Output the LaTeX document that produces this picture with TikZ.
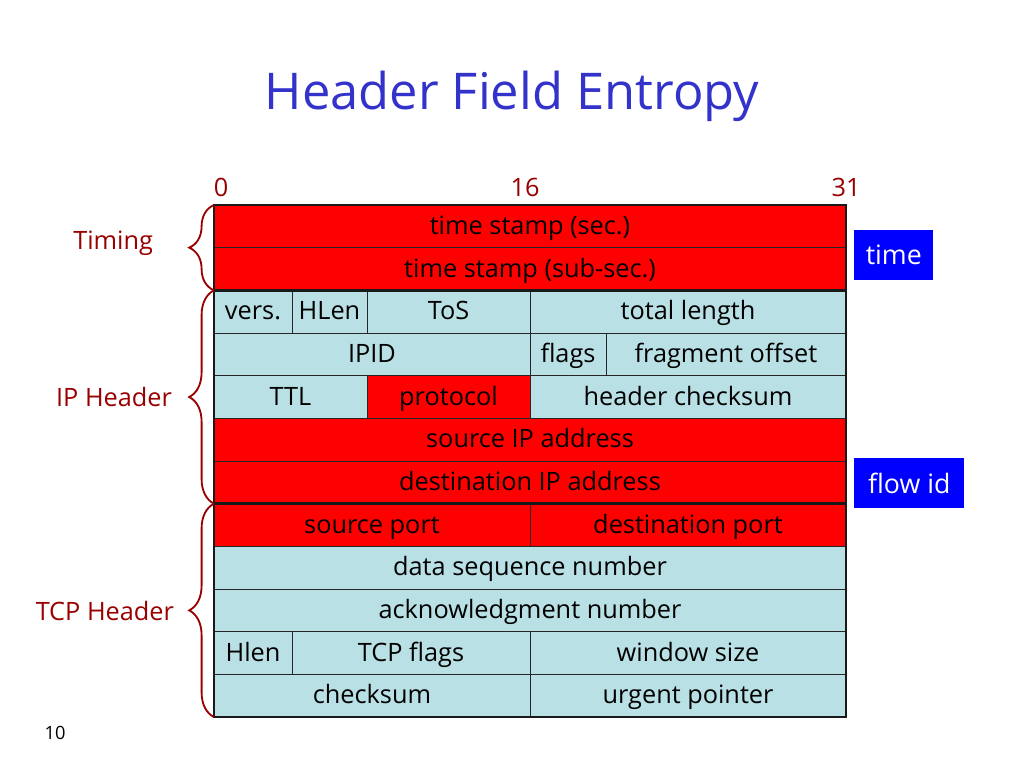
\documentclass[tikz,border=0pt]{standalone}
\usepackage{fontspec}
\setmainfont{Open Sans}
\usetikzlibrary{decorations.pathreplacing,positioning}
\definecolor{hdrred}{HTML}{FF0000}
\definecolor{hdrblue}{HTML}{B9E0E4}
\definecolor{labred}{HTML}{990000}
\definecolor{titleblue}{HTML}{3333CC}
\tikzset{
  field/.style={draw=black!85, line width=0.6pt, inner sep=0pt, outer sep=0pt,
    minimum height=1.0667cm, anchor=north west, text height=12.5pt, text depth=1pt,
    font=\fontsize{18}{20}\selectfont},
  border/.style={line width=2pt, black!90, line cap=rect},
  grp/.style={decorate, decoration={brace, amplitude=0.62cm}, labred, line width=1.3pt},
  grplabel/.style={labred, anchor=east, font=\fontsize{18}{20}\selectfont},
  bitno/.style={labred, font=\fontsize{18}{20}\selectfont},
  tag/.style={fill=blue, text=white, anchor=north west, inner sep=0pt,
    minimum height=1.25cm, font=\fontsize{19}{21}\selectfont},
}
% one header field: name, x left, x right, row, fill, text
\newcommand{\hfield}[6]{\node[field, fill=#5, minimum width={(#3-#2)*0.025cm}] (#1) at (#2,{205+42.67*#4}) {#6};}
\begin{document}
\begin{tikzpicture}[x=0.025cm, y=-0.025cm]
\useasboundingbox[fill=white] (0,0) rectangle (1024,768);

\node [titleblue, font=\fontsize{36}{42}\selectfont] (title) at (512,96) {Header Field Entropy};

% bit numbers
\node [bitno] (b0) at (221,187) {0};
\node [bitno] (b16) at (525,187) {16};
\node [bitno] (b31) at (846,187) {31};

% timing
\hfield{ts}{214}{846}{0}{hdrred}{time stamp (sec.)}
\hfield{tsub}{214}{846}{1}{hdrred}{time stamp (sub-sec.)}
% IP header
\hfield{vers}{214}{292}{2}{hdrblue}{vers.}
\hfield{hlen}{292}{367}{2}{hdrblue}{HLen}
\hfield{tos}{367}{530}{2}{hdrblue}{ToS}
\hfield{totlen}{530}{846}{2}{hdrblue}{total length}
\hfield{ipid}{214}{530}{3}{hdrblue}{IPID}
\hfield{flags}{530}{606}{3}{hdrblue}{flags}
\hfield{fragoff}{606}{846}{3}{hdrblue}{fragment offset}
\hfield{ttl}{214}{367}{4}{hdrblue}{TTL}
\hfield{proto}{367}{530}{4}{hdrred}{protocol}
\hfield{hcsum}{530}{846}{4}{hdrblue}{header checksum}
\hfield{srcip}{214}{846}{5}{hdrred}{source IP address}
\hfield{dstip}{214}{846}{6}{hdrred}{destination IP address}
% TCP header
\hfield{sport}{214}{530}{7}{hdrred}{source port}
\hfield{dport}{530}{846}{7}{hdrred}{destination port}
\hfield{seq}{214}{846}{8}{hdrblue}{data sequence number}
\hfield{ack}{214}{846}{9}{hdrblue}{acknowledgment number}
\hfield{thlen}{214}{292}{10}{hdrblue}{Hlen}
\hfield{tflags}{292}{530}{10}{hdrblue}{TCP flags}
\hfield{win}{530}{846}{10}{hdrblue}{window size}
\hfield{tsum}{214}{530}{11}{hdrblue}{checksum}
\hfield{urg}{530}{846}{11}{hdrblue}{urgent pointer}

% heavy lines
\draw [border] (ts.north west) -- (ts.north east);
\draw [border] (vers.north west) -- (totlen.north east);
\draw [border] (sport.north west) -- (dport.north east);
\draw [border] (tsum.south west) -- (urg.south east);
\draw [border] (ts.north west) -- (tsum.south west);
\draw [border] (ts.north east) -- (urg.south east);

% groups
\draw [grp] (tsub.south west) -- (ts.north west);
\draw [grp] (dstip.south west) -- (vers.north west);
\draw [grp] (tsum.south west) -- (sport.north west);
\node [grplabel] (timing) at (158,243) {Timing};
\node [grplabel] (iphdr) at (177,397) {IP Header};
\node [grplabel] (tcphdr) at (179,611) {TCP Header};

% tags
\node [tag, minimum width=79*0.025cm] (timetag) at (854,230) {time};
\node [tag, minimum width=110*0.025cm] (flowtag) at (854,458) {flow id};

\node [font=\fontsize{13}{15}\selectfont] (pageno) at (55,733) {10};
\end{tikzpicture}
\end{document}
